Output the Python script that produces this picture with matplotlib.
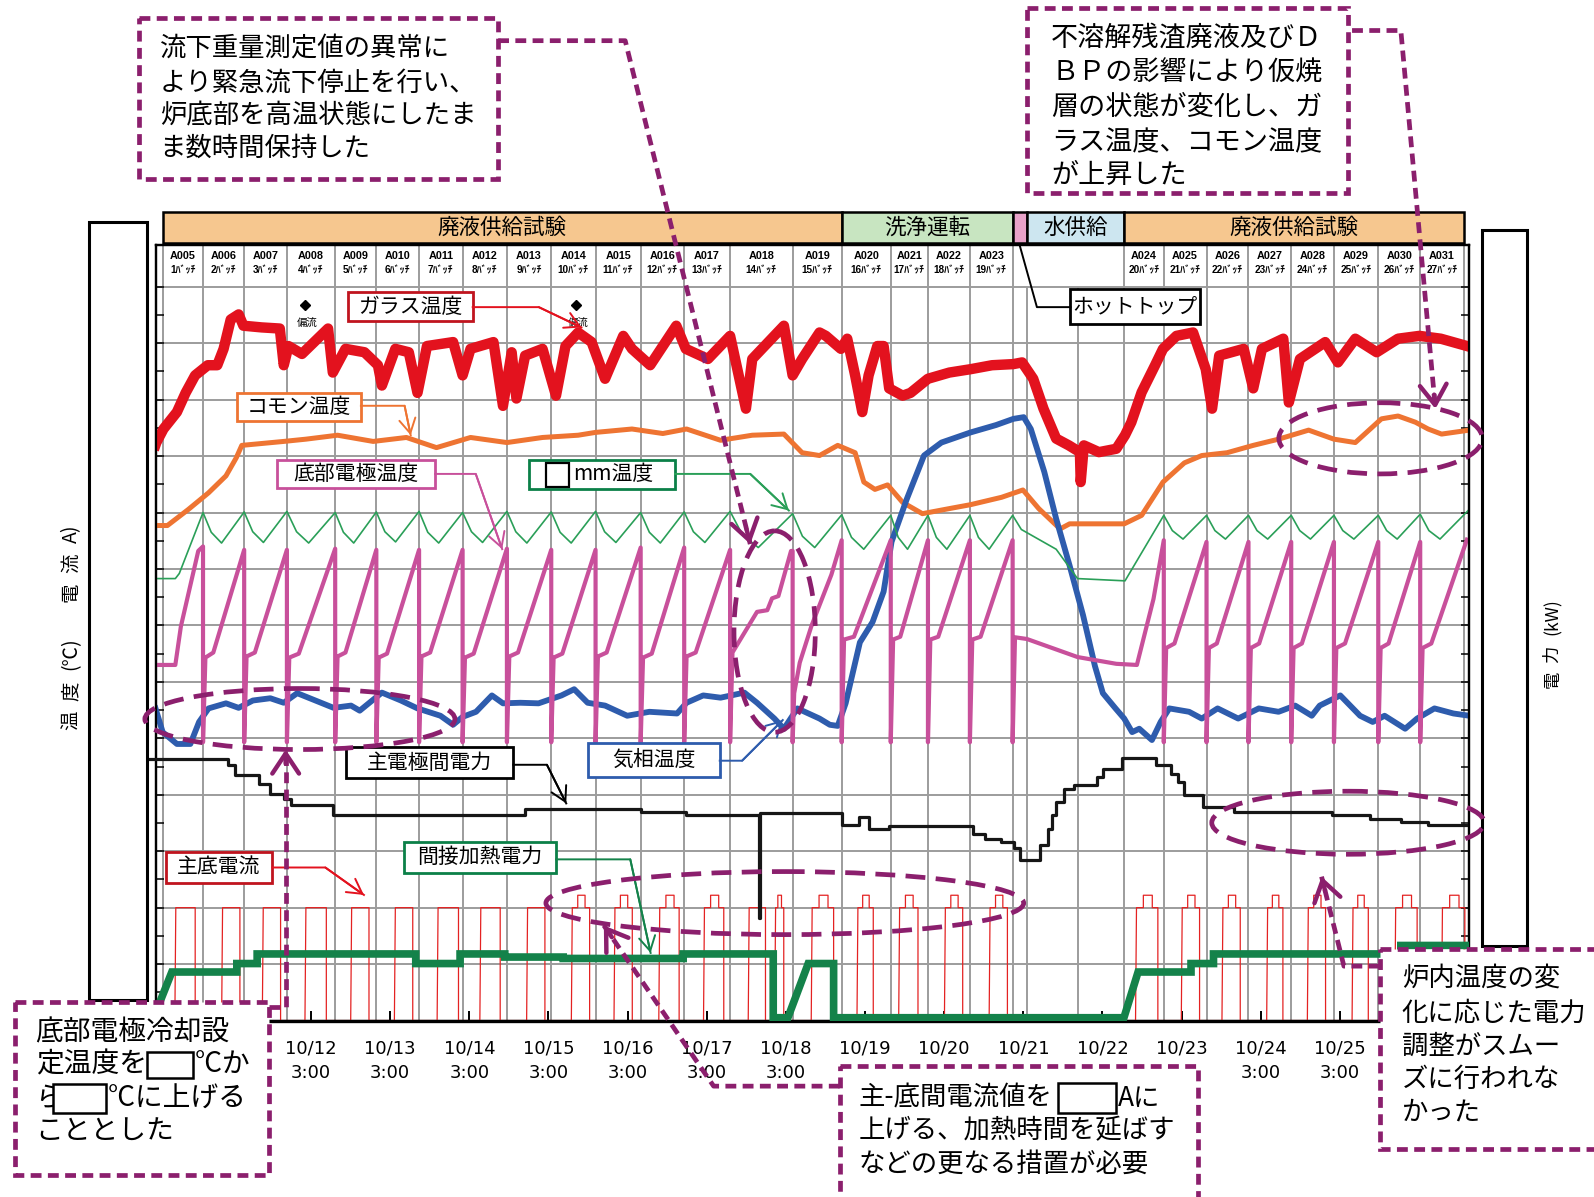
import numpy as np
import matplotlib
matplotlib.use("Agg")
import matplotlib.pyplot as plt
from matplotlib.patches import Rectangle, Ellipse, FancyArrowPatch
from matplotlib.lines import Line2D
from matplotlib.transforms import Affine2D, blended_transform_factory

plt.rcParams["font.family"] = ["Noto Sans CJK JP", "DejaVu Sans"]

# ---------------------------------------------------------------------------
# Data  (time = day of October, e.g. 12.125 -> 10/12 3:00)
# temperatures / current on the left scale, power [kW] on the right scale
# ---------------------------------------------------------------------------
T_START, T_END = 10.16, 26.756

phase_names = ["廃液供給試験", "洗浄運転", "", "水供給", "廃液供給試験"]
phase_start = [10.25, 18.83, 20.99, 21.17, 22.40]
phase_end = [18.83, 20.99, 21.17, 22.40, 26.69]
phase_colors = ["#F6C78F", "#C8E5C1", "#E8A2C9", "#CDE6F0", "#F6C78F"]

batch_names = ["A005", "A006", "A007", "A008", "A009", "A010", "A011", "A012",
               "A013", "A014", "A015", "A016", "A017", "A018", "A019", "A020",
               "A021", "A022", "A023", "A024", "A025", "A026", "A027", "A028",
               "A029", "A030", "A031"]
batch_no = [1, 2, 3, 4, 5, 6, 7, 8, 9, 10, 11, 12, 13, 14, 15, 16, 17, 18, 19,
            20, 21, 22, 23, 24, 25, 26, 27]
batch_start = [10.25, 10.76, 11.28, 11.82, 12.43, 12.95, 13.49, 14.04, 14.60,
               15.16, 15.72, 16.29, 16.84, 17.42, 18.21, 18.83, 19.45, 19.92,
               20.45, 22.40, 22.90, 23.44, 23.97, 24.51, 25.05, 25.61, 26.14]
batch_end = [10.76, 11.28, 11.82, 12.43, 12.95, 13.49, 14.04, 14.60, 15.16,
             15.72, 16.29, 16.84, 17.42, 18.21, 18.83, 19.45, 19.92, 20.45,
             20.99, 22.90, 23.44, 23.97, 24.51, 25.05, 25.61, 26.14, 26.69]
extra_grid = [21.17, 21.81]

tick_days = [11.125, 12.125, 13.125, 14.125, 15.125, 16.125, 17.125, 18.125,
             19.125, 20.125, 21.125, 22.125, 23.125, 24.125, 25.125, 26.125]
tick_labels = ["", "10/12\n3:00", "10/13\n3:00", "10/14\n3:00",
               "10/15\n3:00", "10/16\n3:00", "10/17\n3:00", "10/18\n3:00",
               "10/19", "10/20", "10/21", "10/22", "10/23",
               "10/24\n3:00", "10/25\n3:00", ""]

# ガラス温度
glass = [(10.16, 1020), (10.17, 1024), (10.26, 1048), (10.43, 1078), (10.54, 1112),
         (10.66, 1143), (10.82, 1161), (10.94, 1161), (11.02, 1190), (11.11, 1242),
         (11.21, 1251), (11.27, 1231), (11.50, 1228), (11.73, 1226), (11.78, 1161),
         (11.84, 1195), (12.01, 1181), (12.34, 1226), (12.40, 1148), (12.56, 1190),
         (12.80, 1184), (12.97, 1161), (13.02, 1125), (13.19, 1190), (13.36, 1184),
         (13.47, 1112), (13.59, 1195), (13.92, 1202), (14.04, 1143), (14.14, 1190),
         (14.43, 1202), (14.55, 1089), (14.66, 1184), (14.72, 1102), (14.83, 1178),
         (15.05, 1190), (15.22, 1107), (15.34, 1195), (15.50, 1219), (15.67, 1202),
         (15.84, 1137), (16.07, 1213), (16.18, 1190), (16.41, 1161), (16.74, 1231),
         (16.86, 1190), (17.14, 1172), (17.42, 1213), (17.62, 1084), (17.70, 1172),
         (18.10, 1231), (18.21, 1143), (18.33, 1172), (18.47, 1202), (18.55, 1219),
         (18.63, 1213), (18.82, 1190), (18.90, 1208), (19.00, 1143), (19.09, 1078),
         (19.17, 1143), (19.28, 1195), (19.36, 1195), (19.43, 1120), (19.60, 1107),
         (19.70, 1112), (19.92, 1137), (20.19, 1148), (20.46, 1154), (20.73, 1161),
         (21.00, 1163), (21.11, 1166), (21.25, 1137), (21.38, 1084), (21.54, 1031),
         (21.70, 1019), (21.84, 1007), (21.85, 954), (21.89, 1019), (22.08, 1007),
         (22.30, 1013), (22.41, 1037), (22.49, 1060), (22.62, 1113), (22.79, 1161),
         (22.89, 1190), (23.06, 1213), (23.27, 1219), (23.43, 1154), (23.51, 1084),
         (23.60, 1178), (23.91, 1190), (24.03, 1120), (24.14, 1190), (24.41, 1208),
         (24.48, 1095), (24.62, 1172), (24.94, 1202), (25.10, 1166), (25.32, 1208),
         (25.59, 1184), (25.86, 1208), (26.13, 1213), (26.40, 1208), (26.73, 1195)]

# コモン温度
common = [(10.16, 877), (10.31, 877), (10.57, 905), (10.83, 935), (11.05, 965),
          (11.18, 997), (11.25, 1019), (11.78, 1026), (12.06, 1030), (12.46, 1037),
          (12.91, 1026), (13.33, 1033), (13.71, 1015), (14.14, 1033), (14.60, 1024),
          (15.05, 1033), (15.50, 1037), (15.72, 1042), (16.18, 1048), (16.57, 1040),
          (16.87, 1048), (17.30, 1028), (17.70, 1037), (18.10, 1039), (18.33, 1006),
          (18.55, 1001), (18.78, 1019), (19.00, 1006), (19.11, 954), (19.25, 941),
          (19.41, 949), (19.60, 918), (19.85, 898), (20.19, 907), (20.46, 914),
          (20.85, 927), (21.12, 940), (21.32, 907), (21.59, 871), (21.71, 880),
          (22.40, 880), (22.62, 895), (22.89, 954), (23.16, 988), (23.38, 1001),
          (23.70, 1006), (24.03, 1019), (24.35, 1030), (24.73, 1046), (25.05, 1030),
          (25.32, 1024), (25.65, 1066), (25.86, 1071), (26.08, 1060), (26.24, 1048),
          (26.41, 1039), (26.76, 1046)]

# 気相温度
gas = [(10.16, 553), (10.25, 511), (10.43, 490), (10.60, 490), (10.71, 529),
       (10.83, 553), (11.05, 562), (11.21, 554), (11.39, 567), (11.61, 571),
       (11.78, 563), (11.95, 580), (12.18, 567), (12.41, 554), (12.63, 558),
       (12.74, 549), (13.02, 581), (13.26, 567), (13.47, 553), (13.76, 540),
       (13.92, 524), (14.04, 538), (14.21, 547), (14.41, 576), (14.55, 562),
       (14.77, 563), (15.00, 562), (15.29, 576), (15.45, 587), (15.62, 563),
       (15.84, 558), (16.12, 540), (16.40, 547), (16.75, 544), (16.87, 563),
       (17.08, 576), (17.30, 572), (17.60, 581), (17.76, 563), (17.98, 535),
       (18.10, 517), (18.27, 553), (18.55, 535), (18.68, 524), (18.78, 522),
       (18.88, 562), (19.06, 670), (19.22, 706), (19.36, 760), (19.46, 848),
       (19.65, 923), (19.87, 1001), (20.09, 1024), (20.46, 1042), (20.78, 1055),
       (21.00, 1066), (21.13, 1069), (21.22, 1048), (21.39, 972), (21.54, 889),
       (21.71, 806), (21.88, 718), (22.03, 628), (22.13, 580), (22.29, 553),
       (22.40, 535), (22.50, 511), (22.59, 517), (22.75, 497), (22.86, 529),
       (22.97, 553), (23.22, 547), (23.38, 535), (23.58, 553), (23.84, 535),
       (24.10, 553), (24.35, 547), (24.56, 558), (24.77, 540), (24.87, 558),
       (25.13, 576), (25.38, 540), (25.54, 529), (25.69, 540), (25.95, 517),
       (26.10, 535), (26.32, 553), (26.56, 544), (26.76, 540)]

# 底部電極温度
bottom_el = [(10.16, 630), (10.41, 630), (10.48, 698), (10.70, 832), (10.76, 840),
             (10.76, 493), (10.79, 643), (10.89, 652), (11.28, 834),
             (11.28, 493), (11.31, 645), (11.415, 652), (11.82, 834),
             (11.82, 493), (11.85, 643), (11.97, 650), (12.43, 836),
             (12.43, 493), (12.46, 645), (12.56, 652), (12.95, 834),
             (12.95, 493), (12.98, 643), (13.085, 650), (13.49, 834),
             (13.49, 493), (13.52, 645), (13.63, 652), (14.04, 834),
             (14.04, 493), (14.07, 643), (14.18, 650), (14.60, 836),
             (14.60, 493), (14.63, 645), (14.74, 652), (15.16, 834),
             (15.16, 493), (15.19, 643), (15.30, 650), (15.72, 834),
             (15.72, 493), (15.75, 645), (15.86, 652), (16.29, 838),
             (16.29, 493), (16.32, 643), (16.43, 650), (16.84, 838),
             (16.84, 493), (16.87, 645), (16.985, 652), (17.42, 834),
             (17.42, 493), (17.45, 652), (17.76, 724), (17.89, 727), (17.95, 748),
             (18.03, 752), (18.19, 832), (18.21, 832),
             (18.21, 493), (18.23, 580), (18.30, 634), (18.45, 700), (18.70, 790),
             (18.83, 851),
             (18.83, 493), (18.86, 675), (18.985, 680), (19.45, 851),
             (19.45, 493), (19.48, 675), (19.57, 680), (19.92, 851),
             (19.92, 493), (19.95, 675), (20.05, 680), (20.45, 851),
             (20.45, 493), (20.48, 675), (20.585, 680), (20.99, 851),
             (20.99, 493), (21.02, 679), (21.17, 676), (21.81, 644), (22.30, 632),
             (22.56, 630), (22.77, 747), (22.90, 851),
             (22.90, 493), (22.93, 660), (23.035, 668), (23.44, 848),
             (23.44, 493), (23.47, 660), (23.57, 668), (23.97, 848),
             (23.97, 493), (24.00, 660), (24.105, 668), (24.51, 848),
             (24.51, 493), (24.54, 660), (24.645, 668), (25.05, 848),
             (25.05, 493), (25.08, 660), (25.19, 668), (25.61, 848),
             (25.61, 493), (25.64, 660), (25.74, 668), (26.14, 848),
             (26.14, 493), (26.17, 660), (26.28, 668), (26.73, 852)]

# □mm温度
mm_temp = [(10.16, 783), (10.41, 783), (10.46, 792), (10.76, 900),
           (10.864, 865), (10.994, 846), (11.28, 901),
           (11.388, 866), (11.523, 847), (11.82, 902),
           (11.942, 866), (12.095, 846), (12.43, 900),
           (12.534, 865), (12.664, 846), (12.95, 901),
           (13.058, 866), (13.193, 848), (13.49, 902),
           (13.60, 865), (13.738, 846), (14.04, 900),
           (14.152, 866), (14.292, 847), (14.60, 902),
           (14.712, 866), (14.852, 846), (15.16, 901),
           (15.272, 865), (15.412, 846), (15.72, 902),
           (15.834, 866), (15.977, 847), (16.29, 900),
           (16.40, 865), (16.538, 846), (16.84, 901),
           (16.956, 866), (17.101, 847), (17.42, 902),
           (17.578, 860), (17.776, 838), (18.21, 898),
           (18.334, 858), (18.489, 838), (18.83, 896),
           (18.954, 856), (19.109, 835), (19.45, 895),
           (19.544, 856), (19.662, 835), (19.92, 895),
           (20.026, 856), (20.159, 835), (20.45, 895),
           (20.558, 856), (20.693, 835), (20.99, 895),
           (21.10, 870), (21.54, 835), (21.81, 783), (22.41, 779), (22.90, 895),
           (23.008, 868), (23.143, 853), (23.44, 895),
           (23.546, 868), (23.679, 853), (23.97, 895),
           (24.078, 868), (24.213, 853), (24.51, 895),
           (24.618, 868), (24.753, 853), (25.05, 895),
           (25.162, 868), (25.302, 853), (25.61, 895),
           (25.716, 868), (25.849, 853), (26.14, 897),
           (26.25, 868), (26.39, 853), (26.756, 905)]

# 主底電流 : pulse on / off times, flat top and raised part of the top
current_on = [10.404, 10.995, 11.509, 12.048, 12.626, 13.178, 13.718, 14.258,
              14.849, 15.414, 15.953, 16.519, 17.084, 17.649, 17.983, 18.445,
              19.023, 19.550, 20.128, 20.693, 22.543, 23.121, 23.635, 24.200,
              24.714, 25.279, 25.818, 26.409]
current_off = [10.661, 11.226, 11.740, 12.318, 12.857, 13.410, 13.988, 14.515,
               15.080, 15.645, 16.184, 16.776, 17.340, 17.867, 18.098, 18.728,
               19.229, 19.794, 20.359, 20.924, 22.825, 23.352, 23.866, 24.405,
               24.944, 25.484, 26.101, 26.704]
current_top = [200, 200, 200, 200, 200, 200, 200, 200, 200, 200, 200, 200, 200,
               200, 200, 200, 200, 200, 200, 200, 200, 200, 200, 200, 200, 200,
               200, 200]
current_peak = [200, 200, 200, 200, 200, 200, 200, 200, 200, 222, 222, 222, 222,
                200, 222, 222, 222, 222, 222, 222, 222, 222, 222, 222, 222, 222,
                222, 222]

# 主電極間電力 [kW] (value holds until next time)
main_power_t = [10.06, 11.072, 11.162, 11.470, 11.611, 11.778, 11.868, 12.403,
                14.829, 16.293, 16.859, 17.785, 17.795, 18.83, 19.044, 19.172,
                19.428, 20.487, 20.641, 20.842, 21.001, 21.078, 21.335, 21.44,
                21.49, 21.54, 21.64, 21.77, 22.05, 22.13, 22.37, 22.80, 22.99,
                23.08, 23.16, 23.39, 23.79, 25.02, 25.51, 25.895, 26.237, 26.724]
main_power_v = [46.4, 45.2, 43.5, 41.9, 40.2, 39.3, 38.2, 36.5, 37.5, 36.9,
                36.5, 18.1, 36.7, 34.6, 36.1, 34.0, 34.5, 33.1, 32.2, 31.6, 30.5,
                28.4, 31.1, 34.0, 36.4, 38.7, 41.0, 41.7, 43.2, 44.6, 46.5, 45.2,
                43.7, 42.3, 39.9, 37.8, 36.9, 36.4, 35.7, 35.2, 34.6, 34.6]

# 間接加熱電力 [kW]
heater = [(10.224, 3.6), (10.366, 8.6), (11.187, 8.6), (11.187, 10.1), (11.444, 10.1),
          (11.444, 11.8), (13.448, 11.8), (13.448, 10.1), (14.008, 10.1), (14.008, 11.8),
          (14.573, 11.8), (14.573, 11.25), (15.311, 11.25), (15.311, 11.0), (16.827, 11.0),
          (16.827, 11.8), (17.965, 11.8), (17.965, 0.5), (18.150, 0.5), (18.407, 10.1),
          (18.728, 10.1), (18.728, 0.5), (22.396, 0.5), (22.575, 8.6), (23.244, 8.6),
          (23.244, 10.1), (23.528, 10.1), (23.528, 11.8), (25.895, 11.8), (25.895, 13.3),
          (26.756, 13.3)]

# 偏流 events
drift_t = [12.05, 15.47]

# ---------------------------------------------------------------------------
RED = "#E3121E"
ORANGE = "#EE7432"
BLUE = "#2E5CAD"
PINK = "#C8509B"
GREEN_T = "#2A9F58"
GREEN = "#14824A"
GRID = "#9C9C9C"
PURPLE = "#8B1F6D"

fig = plt.figure(figsize=(15.94, 11.97), dpi=100)
fig.patch.set_facecolor("white")
# layout helper: coordinates on a 1568 x 1177 canvas, origin top-left
T = Affine2D().scale(1 / 1568, -1 / 1177).translate(0, 1) + fig.transFigure

ax = fig.add_axes([153 / 1568, 1 - 1003.5 / 1177, (1445 - 153) / 1568,
                   (1003.5 - 240.9) / 1177])
ax.set_xlim(T_START, T_END)
ax.set_ylim(0, 1374)
ax2 = ax.twinx()
ax2.set_ylim(0, 137.4)
ax2.set_yticks([])
for a in (ax, ax2):
    for s in a.spines.values():
        s.set_linewidth(1.6)
        s.set_color("black")
ax.spines["bottom"].set_linewidth(2.4)

# grid
ax.hlines(np.arange(100, 1301, 100), T_START, T_END, colors=GRID, lw=1.4, zorder=1)
bounds = sorted(set(batch_start + batch_end))
ax.vlines(bounds, 0, 1374, colors=GRID, lw=1.4, zorder=1)
ax.vlines(extra_grid, 0, 1300, colors=GRID, lw=1.4, zorder=1)

# ticks
ax.set_yticks(np.arange(0, 1301, 50))
ax.tick_params(axis="y", direction="in", length=6, width=1.1, left=True,
               right=True, labelleft=False, labelright=False)
ax.set_xticks(tick_days, tick_labels, fontsize=13, fontfamily="DejaVu Sans",
              linespacing=1.45)
ax.tick_params(axis="x", direction="in", length=7, width=1.4, pad=14)

# phase header above the plot
bt = blended_transform_factory(ax.transData, ax.transAxes)
for name, s, e, c in zip(phase_names, phase_start, phase_end, phase_colors):
    ax.add_patch(Rectangle((s, 1.0025), e - s, 0.0394, transform=bt, fc=c,
                           ec="black", lw=1.8, clip_on=False, zorder=5))
    if name:
        ax.text((s + e) / 2, 1.022, name, transform=bt, ha="center",
                va="center", fontsize=15.5, clip_on=False, zorder=6)

# batch labels
for name, n, s, e in zip(batch_names, batch_no, batch_start, batch_end):
    xm = (s + e) / 2
    ax.text(xm, 1355, name, ha="center", va="center", fontsize=7.8,
            weight="bold", family=["Liberation Sans", "Noto Sans CJK JP"])
    ax.text(xm, 1329, f"{n}ﾊﾞｯﾁ", ha="center", va="center", fontsize=7.2,
            weight="bold", family=["Liberation Sans", "Noto Sans CJK JP"])

# series
def unzip(pairs):
    return [p[0] for p in pairs], [p[1] for p in pairs]

ax.plot(*unzip(glass), color=RED, lw=7.5, zorder=4, solid_joinstyle="round")
ax.plot(*unzip(common), color=ORANGE, lw=3.6, zorder=4)
ax.plot(*unzip(gas), color=BLUE, lw=4.2, zorder=4)
ax.plot(*unzip(mm_temp), color=GREEN_T, lw=1.2, zorder=4)
ax.plot(*unzip(bottom_el), color=PINK, lw=3.0, zorder=5)

cx, cy = [T_START], [0]
for on, off, top, pk in zip(current_on, current_off, current_top, current_peak):
    w = off - on
    cx += [on, on + 0.012, on + 0.35 * w, on + 0.35 * w, on + 0.75 * w,
           on + 0.75 * w, off, off]
    cy += [0, top, top, pk, pk, top, top, 0]
cx.append(T_END)
cy.append(0)
ax.plot(cx, cy, color="#E42222", lw=0.9, zorder=3)

ax.plot(drift_t, [1267] * len(drift_t), "D", color="black", ms=5.5, zorder=6)
for t in drift_t:
    ax.text(t + 0.03, 1236, "偏流", ha="center", va="center", fontsize=7.5, zorder=6)

ax2.plot(main_power_t, main_power_v, drawstyle="steps-post", color="#161616",
         lw=2.3, zorder=4, clip_on=False)
ax2.plot(*unzip(heater), color=GREEN, lw=5.5, zorder=5, solid_joinstyle="miter")

# ---------------------------------------------------------------------------
# overlays
def rect(x0, y0, x1, y1, ec="black", lw=2.0, ls="-", fc="white", z=6):
    fig.add_artist(Rectangle((x0, y0), x1 - x0, y1 - y0, transform=T, fc=fc,
                             ec=ec, lw=lw, ls=ls, zorder=z))


def txt(x, y, s, size=15, ha="left", va="center", **kw):
    fig.text(x, y, s, transform=T, fontsize=size, ha=ha, va=va, zorder=9, **kw)


def leader(pts, color, lw=1.4):
    xs, ys = zip(*pts)
    fig.add_artist(Line2D(xs, ys, transform=T, color=color, lw=lw, zorder=8))
    fig.add_artist(FancyArrowPatch(pts[-2], pts[-1], transform=T,
                                   arrowstyle="->,head_length=0.8,head_width=0.45",
                                   mutation_scale=13, color=color, lw=lw,
                                   shrinkA=0, shrinkB=0, zorder=8))


DASH_BOX = (0, (2.3, 1.35))
DASH_LONG = (0, (4.2, 2.2))


def dleader(pts, head=True):
    xs, ys = zip(*pts)
    fig.add_artist(Line2D(xs, ys, transform=T, color=PURPLE, lw=3.4,
                          ls=DASH_BOX, zorder=8))
    if head:
        p1 = np.array(pts[-2], float)
        p2 = np.array(pts[-1], float)
        d = (p2 - p1) / np.hypot(*(p2 - p1))
        fig.add_artist(FancyArrowPatch(tuple(p2 - 14 * d), tuple(p2), transform=T,
                                       arrowstyle="->,head_length=0.6,head_width=0.4",
                                       mutation_scale=24, color=PURPLE, lw=3.2,
                                       shrinkA=0, shrinkB=0, zorder=8))


def dellipse(cxp, cyp, w, h):
    fig.add_artist(Ellipse((cxp, cyp), w, h, transform=T, fill=False, ec=PURPLE,
                           lw=3.4, ls=DASH_LONG, zorder=8))


# axis side panels
rect(88, 218, 145, 983, lw=2.2, z=6)
rect(1458, 226, 1502, 930, lw=2.2, z=6)
for s, y in [("温", 708), ("度", 680), ("(℃)", 643), ("電", 582), ("流", 554), ("A)", 525)]:
    txt(70, y, s, size=14, ha="center", rotation=90)
for s, y in [("電", 668), ("力", 643), ("(kW)", 606)]:
    txt(1527, y, s, size=12.5, ha="center", rotation=90)

# series labels
rect(342, 287, 465, 316, ec="#C0141E")
txt(403.5, 301.5, "ガラス温度", ha="center")
leader([(465, 302), (530, 302), (572, 322)], RED)

rect(233, 386, 355, 414, ec=ORANGE)
txt(294, 400, "コモン温度", ha="center")
leader([(355, 399), (398, 399), (404, 428)], ORANGE)

rect(272, 452, 428, 480, ec=PINK)
txt(350, 466, "底部電極温度", ha="center")
leader([(428, 466), (468, 466), (494, 540)], PINK)

rect(520, 452, 664, 481, ec="#0B8048")
rect(537, 455, 560, 479, ec="black", lw=1.6, z=7)
txt(564, 466.5, "mm温度")
leader([(664, 466), (738, 466), (776, 502)], GREEN_T)

rect(340, 735, 505, 765, ec="black")
txt(422.5, 750, "主電極間電力", ha="center")
leader([(505, 752), (538, 752), (557, 790)], "black")

rect(578, 731, 708, 764, ec=BLUE)
txt(643, 747.5, "気相温度", ha="center")
leader([(708, 748), (730, 748), (770, 708)], BLUE)

rect(163, 838, 268, 868, ec="#C0141E")
txt(215.5, 853, "主底電流", ha="center")
leader([(268, 853), (320, 853), (358, 880)], RED)

rect(397, 828, 547, 858, ec="#0B8048")
txt(472, 843, "間接加熱電力", ha="center")
leader([(547, 845), (620, 845), (640, 937)], GREEN)

rect(1053, 284, 1180, 319, ec="black")
txt(1116.5, 301.5, "ホットトップ", ha="center")
fig.add_artist(Line2D([1003, 1020, 1053], [241, 302, 302], transform=T,
                      color="black", lw=1.4, zorder=8))

# dashed comment boxes
rect(137, 18, 490, 176, ec=PURPLE, lw=3.4, ls=DASH_BOX, z=7)
for s, y in [("流下重量測定値の異常に", 48), ("より緊急流下停止を行い、", 82),
             ("炉底部を高温状態にしたま", 114), ("ま数時間保持した", 146)]:
    txt(157, y, s, size=19)
dleader([(490, 40), (615, 40), (738, 535)])
dellipse(762, 621, 80, 198)

rect(1010, 8, 1326, 190, ec=PURPLE, lw=3.4, ls=DASH_BOX, z=7)
for s, y in [("不溶解残渣廃液及びＤ", 38), ("ＢＰの影響により仮焼", 72),
             ("層の状態が変化し、ガ", 106), ("ラス温度、コモン温度", 140),
             ("が上昇した", 172)]:
    txt(1034, y, s, size=19.5)
dleader([(1330, 30), (1378, 30), (1412, 402)])
dellipse(1358, 431, 200, 70)

rect(15, 985, 265, 1155, ec=PURPLE, lw=3.4, ls=DASH_BOX, z=7)
txt(35, 1015, "底部電極冷却設", size=20)
txt(35, 1047, "定温度を", size=20)
rect(145, 1034, 190, 1060, ec="black", lw=1.8, z=8)
txt(192, 1047, "°Cか", size=20)
txt(35, 1080, "ら", size=20)
rect(52, 1066, 104, 1094, ec="black", lw=1.8, z=9.5)
txt(106, 1080, "°Cに上げる", size=20)
txt(35, 1113, "こととした", size=20)
dleader([(265, 990), (281, 990), (281, 737)])
dellipse(295, 707, 305, 60)

rect(826, 1048, 1178, 1215, ec=PURPLE, lw=3.4, ls=DASH_BOX, z=7)
txt(845, 1080, "主-底間電流値を", size=19)
rect(1041, 1065, 1098, 1094, ec="black", lw=1.8, z=8)
txt(1100, 1080, "Aに", size=19)
txt(845, 1112, "上げる、加熱時間を延ばす", size=19)
txt(845, 1145, "などの更なる措置が必要", size=19)
dleader([(826, 1068), (702, 1068), (594, 910)])
dellipse(772, 888, 470, 62)

rect(1357, 933, 1620, 1130, ec=PURPLE, lw=3.4, ls=DASH_BOX, z=7)
for s, y in [("炉内温度の変", 962), ("化に応じた電力", 996), ("調整がスムー", 1029),
             ("ズに行われな", 1061), ("かった", 1093)]:
    txt(1379, y, s, size=19)
dleader([(1357, 950), (1322, 950), (1300, 862)])
dellipse(1326, 809, 268, 62)

fig.savefig("out.png", dpi=100, facecolor="white")
